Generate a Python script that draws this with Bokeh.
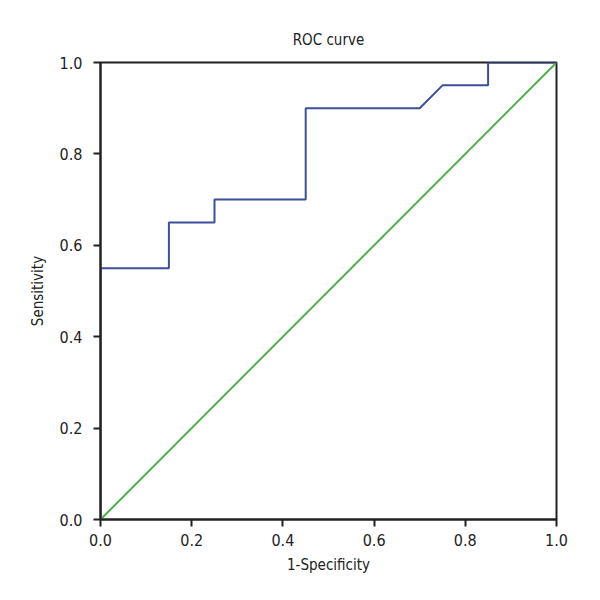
from bokeh.plotting import figure
from bokeh.models import Range1d, FixedTicker
from bokeh.embed import file_html
from bokeh.resources import INLINE

fpr = [0.0, 0.0, 0.15, 0.15, 0.25, 0.25, 0.45, 0.45, 0.70, 0.75, 0.85, 0.85, 1.0]
tpr = [0.0, 0.55, 0.55, 0.65, 0.65, 0.70, 0.70, 0.90, 0.90, 0.95, 0.95, 1.0, 1.0]
diag_x = [0.0, 1.0]
diag_y = [0.0, 1.0]
ticks = [0.0, 0.2, 0.4, 0.6, 0.8, 1.0]
tick_labels = {0.0: "0.0", 0.2: "0.2", 0.4: "0.4", 0.6: "0.6", 0.8: "0.8", 1.0: "1.0"}

FONT = "DejaVu Sans Condensed"

p = figure(width=584, height=584, output_backend="svg", toolbar_location=None,
           x_range=Range1d(0, 1), y_range=Range1d(0, 1),
           min_border_left=100, min_border_right=28, min_border_top=62, min_border_bottom=65,
           title="ROC curve")

p.title.align = "center"
p.title.text_font = FONT
p.title.text_font_size = "15px"
p.title.text_font_style = "normal"
p.title.text_color = "#222222"
p.title.standoff = 28

p.line(diag_x, diag_y, line_color="#4daf4a", line_width=2)
p.line(fpr, tpr, line_color="#3b4f9c", line_width=2)

p.xgrid.visible = False
p.ygrid.visible = False
p.outline_line_color = "#222222"
p.outline_line_width = 2
p.background_fill_color = "white"
p.border_fill_color = "white"

for ax in (p.xaxis[0], p.yaxis[0]):
    ax.ticker = FixedTicker(ticks=ticks)
    ax.major_label_overrides = tick_labels
    ax.minor_tick_line_color = None
    ax.major_tick_in = 0
    ax.major_tick_out = 7
    ax.major_tick_line_width = 2
    ax.major_tick_line_color = "#222222"
    ax.axis_line_color = "#222222"
    ax.axis_line_width = 2
    ax.major_label_text_font = FONT
    ax.major_label_text_font_size = "16px"
    ax.major_label_text_color = "#222222"
    ax.axis_label_text_font = FONT
    ax.axis_label_text_font_size = "15px"
    ax.axis_label_text_font_style = "normal"
    ax.axis_label_text_color = "#222222"

p.xaxis.axis_label = "1-Specificity"
p.yaxis.axis_label = "Sensitivity"
p.xaxis.axis_label_standoff = 7
p.yaxis.axis_label_standoff = 10
p.xaxis.major_label_standoff = 7
p.yaxis.major_label_standoff = 11

open("out.html", "w").write(file_html(p, INLINE))
